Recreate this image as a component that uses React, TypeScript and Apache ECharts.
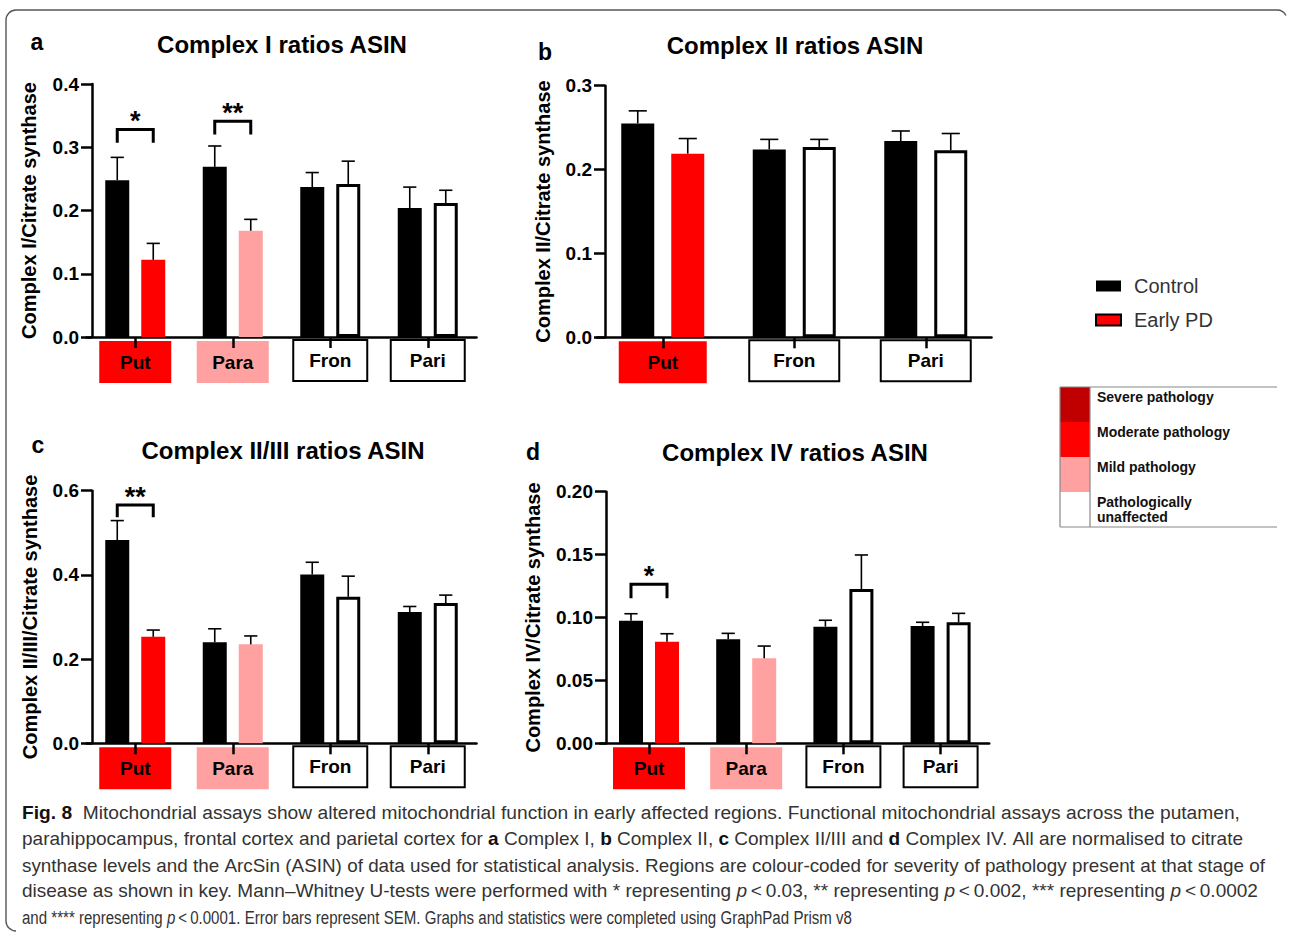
import { useEffect, useRef } from 'react';
import * as echarts from 'echarts';

// ---------------- data ----------------
const regions4 = ['Put', 'Para', 'Fron', 'Pari'];
const regions3 = ['Put', 'Fron', 'Pari'];
const pathology4 = ['moderate', 'mild', 'none', 'none'];
const pathology3 = ['moderate', 'none', 'none'];
const seriesNames = ['Control', 'Early PD'];

const c1ControlMean = [0.248, 0.269, 0.237, 0.204];
const c1ControlSem = [0.036, 0.033, 0.023, 0.033];
const c1EarlyMean = [0.122, 0.168, 0.242, 0.212];
const c1EarlySem = [0.026, 0.018, 0.036, 0.02];

const c2ControlMean = [0.255, 0.224, 0.234];
const c2ControlSem = [0.015, 0.012, 0.012];
const c2EarlyMean = [0.219, 0.227, 0.223];
const c2EarlySem = [0.018, 0.009, 0.02];

const c23ControlMean = [0.483, 0.24, 0.401, 0.312];
const c23ControlSem = [0.046, 0.032, 0.029, 0.013];
const c23EarlyMean = [0.253, 0.235, 0.348, 0.333];
const c23EarlySem = [0.016, 0.02, 0.049, 0.019];

const c4ControlMean = [0.0975, 0.0827, 0.0927, 0.0932];
const c4ControlSem = [0.0055, 0.0047, 0.0051, 0.003];
const c4EarlyMean = [0.0808, 0.0676, 0.1227, 0.0962];
const c4EarlySem = [0.0063, 0.0097, 0.027, 0.0071];

const c1Sig = [
  { cat: 0, label: '*', top: 0.328, leg: 0.307 },
  { cat: 1, label: '**', top: 0.341, leg: 0.32 },
];
const c2Sig: { cat: number; label: string; top: number; leg: number }[] = [];
const c23Sig = [{ cat: 0, label: '**', top: 0.566, leg: 0.537 }];
const c4Sig = [{ cat: 0, label: '*', top: 0.1264, leg: 0.1153 }];

const c1Axis = { max: 0.4, interval: 0.1, digits: 1 };
const c2Axis = { max: 0.3, interval: 0.1, digits: 1 };
const c23Axis = { max: 0.6, interval: 0.2, digits: 1 };
const c4Axis = { max: 0.2, interval: 0.05, digits: 2 };

const panelTitles = ['Complex I ratios ASIN', 'Complex II ratios ASIN', 'Complex II/III ratios ASIN', 'Complex IV ratios ASIN'];
const panelLetters = ['a', 'b', 'c', 'd'];
const yNames = ['Complex I/Citrate synthase', 'Complex II/Citrate synthase', 'Complex II/III/Citrate synthase', 'Complex IV/Citrate synthase'];

const pathologyKey = ['Severe pathology', 'Moderate pathology', 'Mild pathology', 'Pathologically\nunaffected'];

const captionLines: [string, string][][] = [
  [['b', 'Fig. 8'], ['n', '  Mitochondrial assays show altered mitochondrial function in early affected regions. Functional mitochondrial assays across the putamen,']],
  [['n', 'parahippocampus, frontal cortex and parietal cortex for '], ['b', 'a'], ['n', ' Complex I, '], ['b', 'b'], ['n', ' Complex II, '], ['b', 'c'], ['n', ' Complex II/III and '], ['b', 'd'], ['n', ' Complex IV. All are normalised to citrate']],
  [['n', 'synthase levels and the ArcSin (ASIN) of data used for statistical analysis. Regions are colour-coded for severity of pathology present at that stage of']],
  [['n', 'disease as shown in key. Mann\u2013Whitney U-tests were performed with * representing '], ['i', 'p'], ['n', '\u2009<\u20090.03, ** representing '], ['i', 'p'], ['n', '\u2009<\u20090.002, *** representing '], ['i', 'p'], ['n', '\u2009<\u20090.0002']],
  [['n', 'and **** representing '], ['i', 'p'], ['n', '\u2009<\u20090.0001. Error bars represent SEM. Graphs and statistics were completed using GraphPad Prism v8']],
];

// ---------------- styles / layout ----------------
const FONT = '"Liberation Sans", Arial, sans-serif';
const RED = '#FF0000';
const PINK = '#FFA1A1';
const DARKRED = '#C00000';
const pathColor: Record<string, string> = { severe: DARKRED, moderate: RED, mild: PINK, none: '#FFFFFF' };

const panels = [
  { cats: regions4, path: pathology4, cm: c1ControlMean, cs: c1ControlSem, em: c1EarlyMean, es: c1EarlySem, sig: c1Sig, axis: c1Axis,
    grid: { left: 86.5, top: 84, width: 390, height: 253 }, yOff: -5.5, barW: 24, gap: 12, boxW: 72, nameGap: 53,
    title: [282, 44], letter: [37, 42] },
  { cats: regions3, path: pathology3, cm: c2ControlMean, cs: c2ControlSem, em: c2EarlyMean, es: c2EarlySem, sig: c2Sig, axis: c2Axis,
    grid: { left: 597, top: 85.7, width: 394.5, height: 251.6 }, yOff: -8, barW: 33, gap: 17, boxW: 88, nameGap: 52,
    title: [795, 45], letter: [545, 52] },
  { cats: regions4, path: pathology4, cm: c23ControlMean, cs: c23ControlSem, em: c23EarlyMean, es: c23EarlySem, sig: c23Sig, axis: c23Axis,
    grid: { left: 86.5, top: 490.7, width: 390, height: 252.6 }, yOff: -5.5, barW: 24, gap: 12, boxW: 72, nameGap: 52,
    title: [283, 450], letter: [38, 445] },
  { cats: regions4, path: pathology4, cm: c4ControlMean, cs: c4ControlSem, em: c4EarlyMean, es: c4EarlySem, sig: c4Sig, axis: c4Axis,
    grid: { left: 600.4, top: 491.7, width: 388.8, height: 251.6 }, yOff: -5.6, barW: 24, gap: 12, boxW: 72, nameGap: 63,
    title: [795, 452], letter: [533, 452] },
];

function buildOption() {
  const grid: any[] = [];
  const xAxis: any[] = [];
  const yAxis: any[] = [];
  const series: any[] = [];
  const graphic: any[] = [];

  panels.forEach((p, gi) => {
    grid.push({ ...p.grid, containLabel: false });
    const richBase = { width: p.boxW, height: 42, lineHeight: 42, align: 'center', verticalAlign: 'middle', fontSize: 19, fontWeight: 'bold', fontFamily: FONT, color: '#000' };
    xAxis.push({
      type: 'category', gridIndex: gi, data: p.cats, position: 'bottom', z: 1,
      axisLine: { show: true, lineStyle: { color: '#000', width: 2.5 } },
      axisTick: { show: false },
      axisLabel: {
        interval: 0, margin: 4,
        formatter: (v: string) => `{${p.path[p.cats.indexOf(v)]}|${v}}`,
        rich: {
          moderate: { ...richBase, backgroundColor: RED },
          mild: { ...richBase, backgroundColor: PINK },
          none: { ...richBase, backgroundColor: '#FFFFFF', borderColor: '#000', borderWidth: 2, height: 39, lineHeight: 39 },
        },
      },
    });
    // tick-only axis drawn above the label boxes
    xAxis.push({
      type: 'category', gridIndex: gi, data: p.cats, position: 'bottom', z: 10,
      axisLine: { show: false },
      axisTick: { show: true, length: 11, alignWithLabel: true, lineStyle: { color: '#000', width: 2.5 } },
      axisLabel: { show: false },
    });
    yAxis.push({
      type: 'value', gridIndex: gi, min: 0, max: p.axis.max, interval: p.axis.interval, offset: p.yOff,
      name: yNames[gi], nameLocation: 'middle', nameGap: p.nameGap, nameRotate: 90,
      nameTextStyle: { fontSize: 20, fontWeight: 'bold', fontFamily: FONT, color: '#000' },
      axisLine: { show: true, lineStyle: { color: '#000', width: 2.5 } },
      axisTick: { show: true, length: 11, lineStyle: { color: '#000', width: 2.5 } },
      axisLabel: { margin: 13, fontSize: 19, fontWeight: 'bold', fontFamily: FONT, color: '#000', formatter: (v: number) => v.toFixed(p.axis.digits) },
      splitLine: { show: false },
    });
    const xi = gi * 2;
    series.push({
      type: 'bar', name: seriesNames[0], xAxisIndex: xi, yAxisIndex: gi, barWidth: p.barW, barGap: `${(p.gap / p.barW) * 100}%`,
      itemStyle: { color: '#000' }, data: p.cm,
    });
    series.push({
      type: 'bar', name: seriesNames[1], xAxisIndex: xi, yAxisIndex: gi, barWidth: p.barW, barGap: `${(p.gap / p.barW) * 100}%`,
      itemStyle: { color: RED, borderColor: '#000', borderWidth: 3 },
      data: p.em.map((v, i) => {
        const k = p.path[i];
        return k === 'none'
          ? { value: v, itemStyle: { color: '#FFFFFF', borderColor: '#000', borderWidth: 3 } }
          : { value: v, itemStyle: { color: pathColor[k], borderWidth: 0 } };
      }),
    });
    [0, 1].forEach((which) => {
      const means = which === 0 ? p.cm : p.em;
      const sems = which === 0 ? p.cs : p.es;
      const shift = (which === 0 ? -1 : 1) * (p.barW + p.gap) / 2;
      series.push({
        type: 'custom', xAxisIndex: xi, yAxisIndex: gi, z: 5, silent: true,
        data: means.map((m, i) => [i, m, m + sems[i]]),
        renderItem: (_params: any, api: any) => {
          const base = api.coord([api.value(0), api.value(1)]);
          const top = api.coord([api.value(0), api.value(2)]);
          const cx = base[0] + shift;
          const cap = (p.barW * 0.55) / 2;
          return {
            type: 'group',
            children: [
              { type: 'line', shape: { x1: cx, y1: base[1], x2: cx, y2: top[1] }, style: { stroke: '#000', lineWidth: 1.6 } },
              { type: 'line', shape: { x1: cx - cap, y1: top[1], x2: cx + cap, y2: top[1] }, style: { stroke: '#000', lineWidth: 1.6 } },
            ],
          };
        },
      });
    });
    if (p.sig.length) {
      series.push({
        type: 'custom', xAxisIndex: xi, yAxisIndex: gi, z: 6, silent: true,
        data: p.sig.map((s) => [s.cat, s.top, s.leg]),
        renderItem: (params: any, api: any) => {
          const t = api.coord([api.value(0), api.value(1)]);
          const l = api.coord([api.value(0), api.value(2)]);
          const half = (p.barW + p.gap) / 2;
          const x0 = t[0] - half;
          const x1 = t[0] + half;
          return {
            type: 'group',
            children: [
              { type: 'polyline', shape: { points: [[x0, l[1]], [x0, t[1]], [x1, t[1]], [x1, l[1]]] }, style: { stroke: '#000', lineWidth: 3, fill: null } },
              { type: 'text', x: t[0], y: t[1] + 5, style: { text: p.sig[params.dataIndex].label, textAlign: 'center', textVerticalAlign: 'bottom', font: `bold 27px ${FONT}`, fill: '#000' } },
            ],
          };
        },
      });
    }
    graphic.push({ type: 'text', x: p.title[0], y: p.title[1], style: { text: panelTitles[gi], textAlign: 'center', textVerticalAlign: 'middle', font: `bold 24px ${FONT}`, fill: '#000' } });
    graphic.push({ type: 'text', x: p.letter[0], y: p.letter[1], style: { text: panelLetters[gi], textAlign: 'center', textVerticalAlign: 'middle', font: `bold 23px ${FONT}`, fill: '#000' } });
  });

  // pathology key
  const keyX = 1060, keyY = 387, rowH = 35, swW = 30, keyW = 217;
  const keyColors = [DARKRED, RED, PINK, '#FFFFFF'];
  pathologyKey.forEach((label, i) => {
    graphic.push({ type: 'rect', shape: { x: keyX, y: keyY + i * rowH, width: swW, height: rowH }, style: { fill: keyColors[i], stroke: null } });
    graphic.push({ type: 'text', x: keyX + 37, y: keyY + i * rowH + 2, style: { text: label, textVerticalAlign: 'top', font: `bold 14px ${FONT}`, fill: '#111', lineHeight: 15 } });
  });
  const keyStroke = { stroke: '#888', lineWidth: 1.2 };
  graphic.push({ type: 'line', shape: { x1: keyX, y1: keyY, x2: keyX + keyW, y2: keyY }, style: keyStroke });
  graphic.push({ type: 'line', shape: { x1: keyX, y1: keyY + 4 * rowH, x2: keyX + keyW, y2: keyY + 4 * rowH }, style: keyStroke });
  graphic.push({ type: 'line', shape: { x1: keyX, y1: keyY, x2: keyX, y2: keyY + 4 * rowH }, style: keyStroke });
  graphic.push({ type: 'line', shape: { x1: keyX + swW, y1: keyY, x2: keyX + swW, y2: keyY + 4 * rowH }, style: keyStroke });

  // frame (left and top edges with rounded corners)
  const frame = { stroke: '#555', lineWidth: 1.4, fill: null };
  graphic.push({ type: 'line', shape: { x1: 6, y1: 20, x2: 6, y2: 921 }, style: frame });
  graphic.push({ type: 'line', shape: { x1: 16, y1: 10, x2: 1277, y2: 10 }, style: frame });
  graphic.push({ type: 'arc', shape: { cx: 16, cy: 20, r: 10, startAngle: Math.PI, endAngle: Math.PI * 1.5 }, style: frame });
  graphic.push({ type: 'arc', shape: { cx: 1277, cy: 20, r: 10, startAngle: Math.PI * 1.5, endAngle: Math.PI * 1.85 }, style: frame });
  graphic.push({ type: 'arc', shape: { cx: 16, cy: 921, r: 10, startAngle: Math.PI * 0.5, endAngle: Math.PI }, style: frame });

  // caption: one text element per word; each line compressed horizontally to its extent in the reference
  const ctx = document.createElement('canvas').getContext('2d')!;
  const capSize = 19;
  const fontOf = (k: string) => (k === 'b' ? `bold ${capSize}px ${FONT}` : k === 'i' ? `italic ${capSize}px ${FONT}` : `${capSize}px ${FONT}`);
  const measure = (k: string, t: string) => { ctx.font = fontOf(k); return ctx.measureText(t).width; };
  const lineRight = [1240, 1243, 1265, 1258, 852];
  const lineY = [813, 839, 865, 891, 917];
  const capX = 22;
  captionLines.forEach((segs, li) => {
    const total = segs.reduce((a, [k, t]) => a + measure(k, t), 0);
    const sx = (lineRight[li] - capX) / total;
    let acc = 0;
    segs.forEach(([k, t]) => {
      const parts = t.split(' ');
      const spW = measure(k, ' ');
      parts.forEach((part, pi) => {
        if (part.length) {
          graphic.push({ type: 'text', x: capX + acc * sx, y: lineY[li], scaleX: sx, style: { text: part, textVerticalAlign: 'middle', font: fontOf(k), fill: k === 'b' ? '#111' : '#333' } });
          acc += measure(k, part);
        }
        if (pi < parts.length - 1) acc += spW;
      });
    });
  });

  return {
    animation: false,
    backgroundColor: '#FFFFFF',
    grid, xAxis, yAxis, series, graphic,
    legend: {
      data: seriesNames, orient: 'vertical', left: 1095, top: 276, padding: 0, itemWidth: 25, itemHeight: 11, itemGap: 14, icon: 'rect',
      textStyle: { fontSize: 20, color: '#333', fontFamily: FONT, padding: [0, 0, 0, 8] },
      selectedMode: false,
    },
  };
}

export default function App() {
  const ref = useRef<HTMLDivElement>(null);
  useEffect(() => {
    document.body.style.margin = '0';
    if (!ref.current) return;
    const chart = echarts.init(ref.current, undefined, { renderer: 'svg' });
    chart.setOption(buildOption() as any);
    return () => chart.dispose();
  }, []);
  return <div ref={ref} style={{ width: 1290, height: 937 }} />;
}
